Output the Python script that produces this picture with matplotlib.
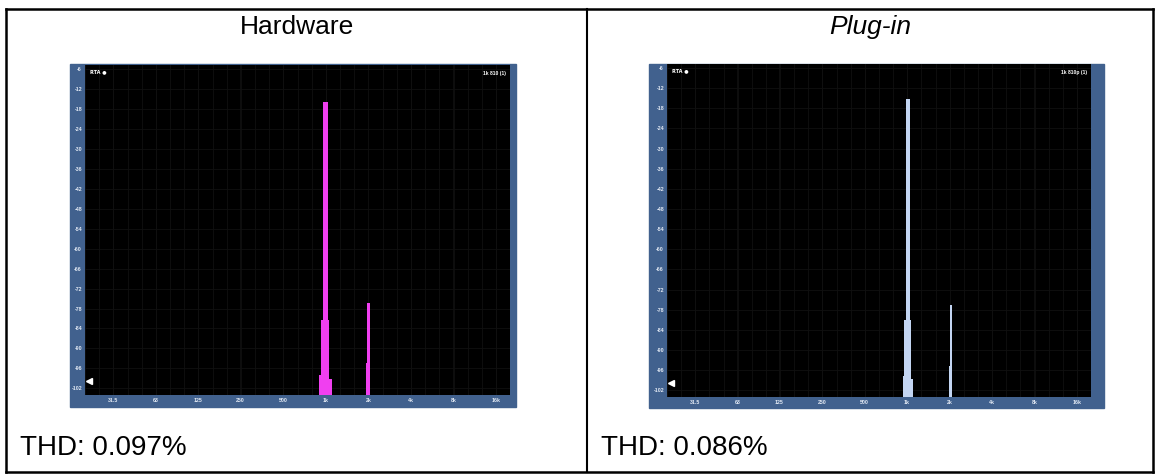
import matplotlib
matplotlib.use("Agg")
import matplotlib.pyplot as plt
from matplotlib.patches import Rectangle
from matplotlib.lines import Line2D
import numpy as np

# ---------------- data ----------------
panel_titles = ["Hardware", "Plug-in"]
thd_labels = ["THD: 0.097%", "THD: 0.086%"]
trace_names = ["1k 810 (1)", "1k 810p (1)"]

freq_ticks = [31.5, 63, 125, 250, 500, 1000, 2000, 4000, 8000, 16000]
freq_tick_labels = ["31.5", "63", "125", "250", "500", "1k", "2k", "4k", "8k", "16k"]
db_ticks = [-6, -12, -18, -24, -30, -36, -42, -48, -54, -60, -66, -72, -78, -84, -90, -96, -102]
db_tick_labels = [str(v) for v in db_ticks]

# RTA spectra: frequency bin edges (Hz) and band levels (dB)
hw_edges = [900, 925, 962, 1038, 1059, 1106, 1940, 1962, 2052]
hw_levels = [-98.1, -81.5, -15.8, -81.5, -99.3, -110, -94.3, -76.3]
pl_edges = [932, 952, 982, 1045, 1073, 1098, 1975, 2005, 2088]
pl_levels = [-97.8, -81.1, -15.3, -81.1, -98.6, -110, -94.8, -76.7]

marker_level = -99.8

# ---------------- styling ----------------
W, H = 1158, 475
FRAME = "#41618e"
GRID = "#101010"
COLORS = ["#f03ff0", "#c3d5f2"]
plt.rcParams["font.family"] = ["Liberation Sans", "DejaVu Sans"]

fig = plt.figure(figsize=(W / 100, H / 100), dpi=100)
fig.patch.set_facecolor("white")


def rect(x0, y0, x1, y1):
    return [x0 / W, 1 - y1 / H, (x1 - x0) / W, (y1 - y0) / H]


def fig_line(xs, ys, lw):
    fig.add_artist(Line2D([x / W for x in xs], [1 - y / H for y in ys],
                          transform=fig.transFigure, color="black", lw=lw,
                          solid_capstyle="projecting"))


# table borders
fig_line([6, 1153], [9, 9], 1.8)
fig_line([6, 6], [9, 472], 1.8)
fig_line([1153, 1153], [9, 472], 1.8)
fig_line([6, 1153], [472, 472], 1.8)
fig_line([587, 587], [9, 472], 1.5)

frames = [(70, 64, 516, 407), (649, 64, 1104, 408)]
plots = [(85, 65, 510, 395), (667, 64, 1091, 397)]
spectra = [(hw_edges, hw_levels), (pl_edges, pl_levels)]
title_x = [297, 870]
thd_x = [20, 601]

minor_freqs = np.geomspace(20, 20000, 31)

for i in range(2):
    fx0, fy0, fx1, fy1 = frames[i]
    fig.add_artist(Rectangle((fx0 / W, 1 - fy1 / H), (fx1 - fx0) / W, (fy1 - fy0) / H,
                             transform=fig.transFigure, color=FRAME, zorder=0))
    ax = fig.add_axes(rect(*plots[i]))
    ax.set_facecolor("black")
    ax.set_xscale("log")
    ax.set_xlim(20, 20000)
    ax.set_ylim(-104, -4.8)
    for s in ax.spines.values():
        s.set_visible(False)
    ax.set_xticks(freq_ticks)
    ax.set_xticklabels(freq_tick_labels)
    ax.set_xticks(minor_freqs, minor=True)
    ax.set_xticklabels([], minor=True)
    ax.set_yticks(db_ticks)
    ax.set_yticklabels(db_tick_labels)
    ax.tick_params(which="both", length=0, colors="white", labelsize=3.8, pad=2.2)
    for lab in ax.get_xticklabels() + ax.get_yticklabels():
        lab.set_fontweight("bold")
        lab.set_color("#e2e9f4")
    ax.grid(True, which="both", color=GRID, lw=0.6)
    ax.set_axisbelow(True)

    edges, levels = spectra[i]
    ax.stairs(levels, edges, baseline=-110, fill=True, color=COLORS[i], zorder=3)

    ax.text(0.012, 0.988, "RTA \u25cf", transform=ax.transAxes, fontsize=3.6,
            color="white", va="top", ha="left", fontweight="bold", family="DejaVu Sans")
    ax.text(0.99, 0.982, trace_names[i], transform=ax.transAxes, fontsize=3.6,
            color="white", va="top", ha="right", fontweight="bold")
    ax.plot([21.3], [marker_level], marker="<", ms=4.2, color="white", zorder=4)

    fig.text(title_x[i] / W, 1 - 27 / H, panel_titles[i], ha="center", va="center",
             fontsize=19, style="italic" if i == 1 else "normal")
    fig.text(thd_x[i] / W, 1 - 455 / H, thd_labels[i], ha="left", va="baseline",
             fontsize=20)

fig.savefig("out.png", dpi=100, facecolor="white")
